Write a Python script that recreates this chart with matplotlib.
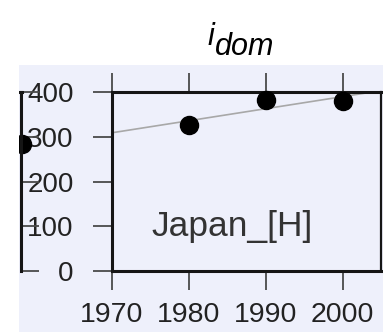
import matplotlib.pyplot as plt
import numpy as np
from matplotlib.patches import Rectangle

plt.rcParams["font.family"] = ["Liberation Sans", "DejaVu Sans"]

# domestic investment, Japan
years = [1980, 1990, 2000]
values = [327, 383, 381]
region_label = "Japan_[H]"
prev_panel_year = [2005]
prev_panel_value = [285]
yticks = [0, 100, 200, 300, 400]
xticks = [1970, 1980, 1990, 2000]

W, H = 383, 332
panel_color = "#eef0fb"
spine_color = "#151515"
tick_color = "#4a4a4a"

fig = plt.figure(figsize=(W / 100, H / 100), dpi=100)
fig.patch.set_facecolor("white")

# shaded panel behind the plots
fig.patches.append(Rectangle((19 / W, 0), 1, (H - 65) / H, transform=fig.transFigure,
                             facecolor=panel_color, edgecolor="none", zorder=-10))

left, right = 111.7 / W, 381 / W
bottom, top = (H - 271) / H, (H - 92.5) / H
ax = fig.add_axes([left, bottom, right - left, top - bottom])
ax.set_facecolor("none")

# neighbouring panel, only its right edge shows
ax_prev = fig.add_axes([21.5 / W - (right - left), bottom, right - left, top - bottom])
ax_prev.set_facecolor("none")
ax_prev.set_xlim(1970, 2005)
ax_prev.set_ylim(0, 400)
ax_prev.plot(prev_panel_year, prev_panel_value, "o", color="black", ms=13, clip_on=False)
for side in ["left", "bottom"]:
    ax_prev.spines[side].set_visible(False)
for side in ["right", "top"]:
    ax_prev.spines[side].set_linewidth(2.2)
    ax_prev.spines[side].set_color(spine_color)
ax_prev.set_xticks([])
ax_prev.set_yticks(yticks)
ax_prev.yaxis.tick_right()
ax_prev.tick_params(axis="y", direction="out", length=13, width=1.3, color=tick_color,
                    labelright=False)

# linear trend through the points
slope, intercept = np.polyfit(years, values, 1)
xfit = np.array([1970, 2005])
ax.plot(xfit, slope * xfit + intercept, color="#a8a8a8", lw=1.2, zorder=2)
ax.plot(years, values, "o", color="black", ms=13, zorder=3, clip_on=False)

ax.set_xlim(1970, 2005)
ax.set_ylim(0, 400)
ax.set_xticks(xticks)
ax.set_yticks(yticks)
ax.tick_params(direction="out", length=14, width=1.3, color=tick_color,
               labelcolor="#222222", top=True, right=False)
ax.tick_params(axis="x", labelsize=20.5, pad=8)
ax.tick_params(axis="y", labelsize=20, pad=13.5)
for side in ["left", "bottom", "top", "right"]:
    ax.spines[side].set_linewidth(2.2)
    ax.spines[side].set_color(spine_color)
ax.spines["right"].set_linewidth(1.6)

ax.text(1975.2, 78, region_label, fontsize=25.5, color="#333333", ha="left", va="baseline")

# title: italic i with lowered "dom"
fig.text(207 / W, (H - 45) / H, "i", fontsize=22, style="italic", ha="left", va="baseline")
fig.text(215 / W, (H - 55) / H, "dom", fontsize=22, style="italic", ha="left", va="baseline")

# white margin on the far left
fig.patches.append(Rectangle((0, 0), 19 / W, 1, transform=fig.transFigure,
                             facecolor="white", edgecolor="none", zorder=10))

fig.savefig("out.png", dpi=100, facecolor="white")
